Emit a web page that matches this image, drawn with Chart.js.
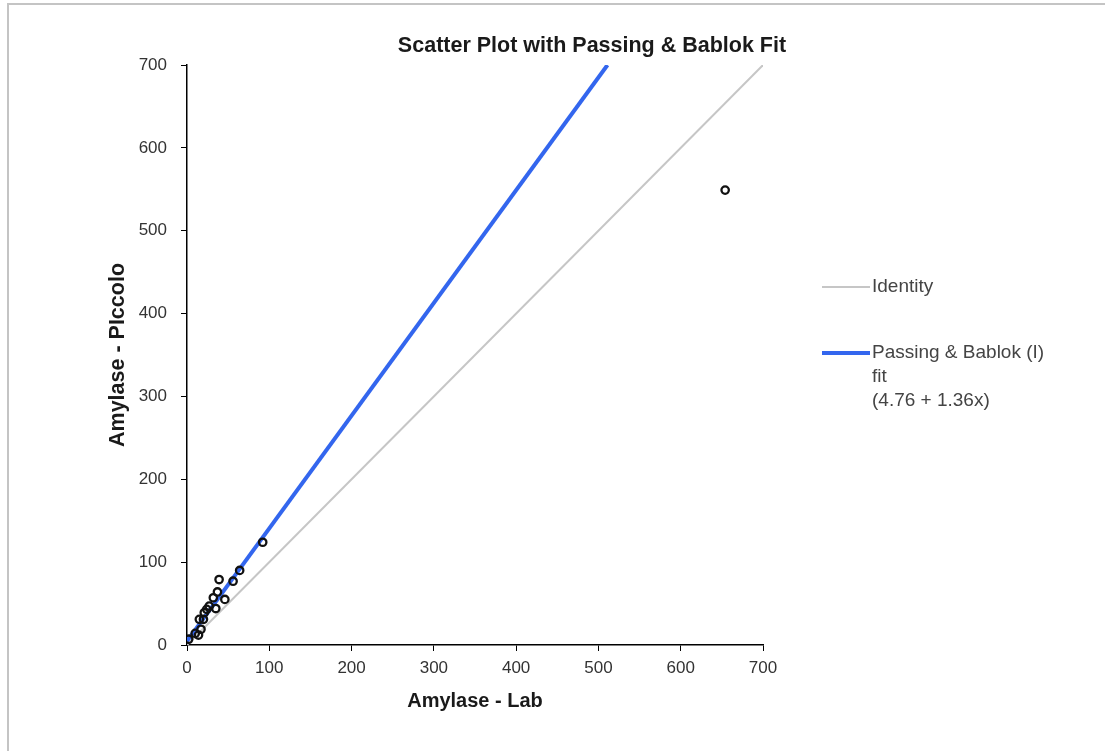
<!DOCTYPE html>
<html>
<head>
<meta charset="utf-8">
<script src="https://cdn.jsdelivr.net/npm/chart.js@4.4.1/dist/chart.umd.min.js"></script>
<style>
  html, body { margin: 0; padding: 0; background: #fff; }
  body { width: 1105px; height: 751px; position: relative; overflow: hidden; }
  #frame { position: absolute; left: 7px; top: 3px; width: 1110px; height: 760px;
           border-left: 2px solid #c4c4c4; border-top: 2px solid #c4c4c4; }
  #wrap { position: absolute; left: 0; top: 0; width: 1105px; height: 751px; }
</style>
</head>
<body>
<div id="frame"></div>
<div id="wrap"><canvas id="chart" width="1105" height="751"></canvas></div>
<script>
// points
const labX = [2, 10, 14, 17, 15, 20, 21, 24, 27, 35, 32, 37, 46, 39, 56, 64, 92, 654];
const piccoloY = [7, 14, 12, 19, 31, 31, 39, 43, 47, 44, 57, 64, 55, 79, 77, 90, 124, 549];

const identityX = [0, 700];
const identityY = [0, 700];
const fitX = [0, 511];
const fitY = [4.76, 700];

const axisTicks = [0, 100, 200, 300, 400, 500, 600, 700];

const legendItems = [
  { color: '#c6c6c6', width: 2, lines: ['Identity'] },
  { color: '#3366ee', width: 4, lines: ['Passing & Bablok (I)', 'fit', '(4.76 + 1.36x)'] }
];

const toXY = (xs, ys) => xs.map((x, i) => ({ x: x, y: ys[i] }));

// title + legend drawn by hand so the legend text can wrap
const extras = {
  id: 'extras',
  afterDraw(chart) {
    const ctx = chart.ctx;
    ctx.save();
    ctx.fillStyle = '#1a1a1a';
    ctx.font = 'bold 21.5px "Liberation Sans", Arial, sans-serif';
    ctx.textAlign = 'center';
    ctx.textBaseline = 'middle';
    ctx.fillText('Scatter Plot with Passing & Bablok Fit', 592, 46);

    ctx.font = '19px "Liberation Sans", Arial, sans-serif';
    ctx.textAlign = 'left';
    ctx.fillStyle = '#444';
    const ys = [287, 353];
    legendItems.forEach((item, i) => {
      ctx.strokeStyle = item.color;
      ctx.lineWidth = item.width;
      ctx.beginPath();
      ctx.moveTo(822, ys[i]);
      ctx.lineTo(870, ys[i]);
      ctx.stroke();
      item.lines.forEach((t, j) => ctx.fillText(t, 872, ys[i] + j * 24));
    });
    ctx.restore();
  }
};

const tickFont = { family: '"Liberation Sans", Arial, sans-serif', size: 17 };
const titleFont = { family: '"Liberation Sans", Arial, sans-serif', size: 20, weight: 'bold' };

new Chart(document.getElementById('chart'), {
  type: 'scatter',
  data: {
    datasets: [
      {
        label: 'Data',
        data: toXY(labX, piccoloY),
        pointRadius: 3.7,
        pointBorderWidth: 2.3,
        borderColor: '#111',
        backgroundColor: 'rgba(255,255,255,0)',
        order: 0
      },
      {
        label: 'Passing & Bablok (I) fit',
        type: 'line',
        data: toXY(fitX, fitY),
        borderColor: '#3366ee',
        borderWidth: 4,
        pointRadius: 0,
        order: 1
      },
      {
        label: 'Identity',
        type: 'line',
        data: toXY(identityX, identityY),
        borderColor: '#c6c6c6',
        borderWidth: 2,
        pointRadius: 0,
        order: 2
      }
    ]
  },
  options: {
    responsive: false,
    animation: false,
    layout: { padding: { left: 87, top: 65, right: 342, bottom: 26 } },
    plugins: {
      legend: { display: false },
      title: { display: false },
      tooltip: { enabled: false }
    },
    scales: {
      x: {
        type: 'linear',
        min: 0,
        max: 700,
        afterBuildTicks: (s) => { s.ticks = axisTicks.map(v => ({ value: v })); },
        afterFit: (s) => { s.height = 80; },
        grid: { drawOnChartArea: false, drawTicks: true, tickLength: 6, color: '#000' },
        border: { color: '#000', width: 1.5 },
        ticks: { font: tickFont, color: '#333', padding: 7, maxRotation: 0 },
        title: { display: true, text: 'Amylase - Lab', font: titleFont, color: '#1a1a1a', padding: { top: 0, bottom: 12 } }
      },
      y: {
        type: 'linear',
        min: 0,
        max: 700,
        afterBuildTicks: (s) => { s.ticks = axisTicks.map(v => ({ value: v })); },
        afterFit: (s) => { s.width = 100; },
        grid: { drawOnChartArea: false, drawTicks: true, tickLength: 6, color: '#000' },
        border: { color: '#000', width: 1.5 },
        ticks: { font: tickFont, color: '#333', padding: 14 },
        title: { display: true, text: 'Amylase - PIccolo', font: { ...titleFont, size: 21.5 }, color: '#1a1a1a', padding: { top: 18, bottom: 0 } }
      }
    }
  },
  plugins: [extras]
});
</script>
</body>
</html>
